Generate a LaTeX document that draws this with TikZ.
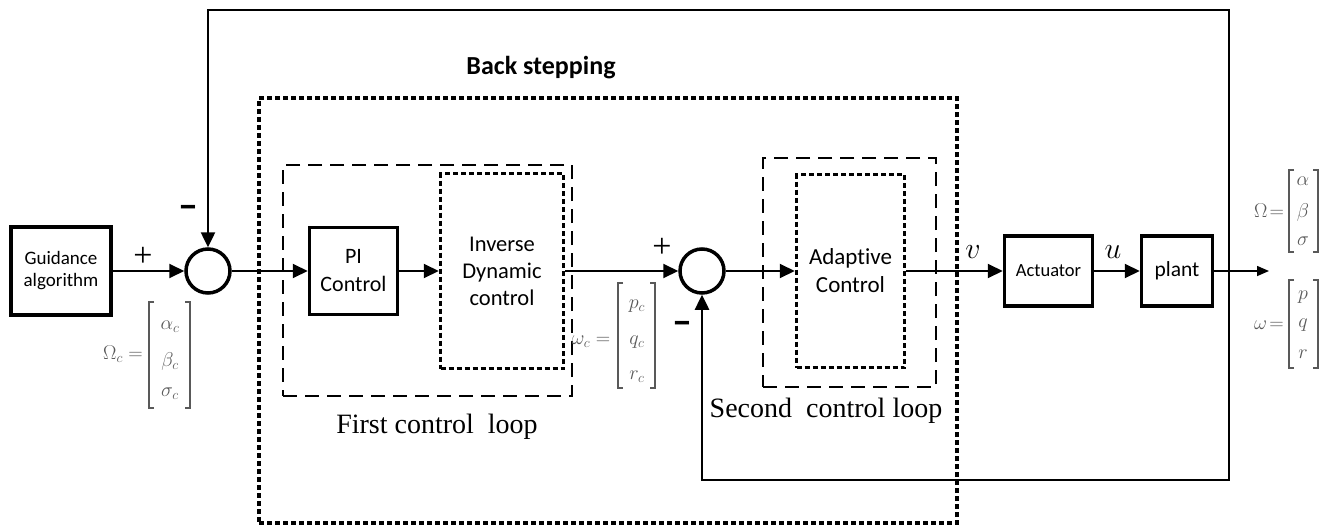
\RequirePackage{fix-cm}
\documentclass[tikz,border=0pt]{standalone}
\usepackage{amsmath}
\usepackage{fontspec}
\setmainfont{Liberation Serif}
\setsansfont[Ligatures={NoCommon}]{Carlito}
\usetikzlibrary{arrows.meta}
\definecolor{mgray}{gray}{0.35}

\begin{document}
\begin{tikzpicture}[x=1pt,y=-1pt,
  block/.style={draw, line width=3.5pt, font=\sffamily\fontsize{22}{28}\selectfont,
                align=center, inner sep=0pt},
  sumj/.style={circle, draw, line width=3.5pt, minimum size=44pt, inner sep=0pt},
  loopbox/.style={draw, line width=2.5pt, dash pattern=on 14pt off 8pt, inner sep=0pt},
  dotbox/.style={draw, line width=3.5pt, dash pattern=on 5pt off 3pt, inner sep=0pt},
  wire/.style={line width=2pt, -{Triangle[length=15pt,width=14pt]}},
  thinwire/.style={line width=1.5pt, -{Triangle[length=12pt,width=10pt]}},
  fbline/.style={line width=2.5pt},
  looplab/.style={font=\fontsize{28}{30}\selectfont, inner sep=0pt},
  plussign/.style={font=\fontsize{34}{34}\selectfont, inner sep=0pt},
  minussign/.style={font=\sffamily\bfseries\fontsize{40}{40}\selectfont, inner sep=0pt},
  siglab/.style={font=\fontsize{30}{30}\selectfont, inner sep=0pt},
  mlab/.style={text=mgray, font=\fontsize{20}{22}\selectfont, inner sep=0pt},
  brk/.style={draw=mgray, line width=1.2pt}
]
\useasboundingbox (0,0) rectangle (1328,527);

% back-stepping region and the two loops
\node[dotbox, minimum width=698pt, minimum height=425pt] (bs) at (608,310.5) {};
\node[font=\sffamily\bfseries\fontsize{26}{28}\selectfont, inner sep=0pt] (bslab) at (541,68) {Back stepping};

\node[loopbox, minimum width=289pt, minimum height=231pt] (loop1) at (427.5,280.5) {};
\node[looplab] (loop1lab) at (437,427) {First control\ \ loop};
\node[loopbox, minimum width=173pt, minimum height=229pt] (loop2) at (849.5,272.5) {};
\node[looplab] (loop2lab) at (826,411) {Second\ \ control loop};

% blocks
\node[block, minimum width=100pt, minimum height=88pt, font=\sffamily\fontsize{19}{22}\selectfont]
  (guid) at (61,271) {Guidance\\algorithm};
\node[sumj] (j1) at (208,271) {};
\node[block, minimum width=88pt, minimum height=87pt] (pi) at (353.5,271) {PI\\Control};
\node[dotbox, minimum width=123pt, minimum height=195pt, align=center,
      font=\sffamily\fontsize{22.5}{27}\selectfont] (idc) at (502,271) {Inverse\\Dynamic\\control};
\node[sumj] (j2) at (702,271) {};
\node[dotbox, minimum width=108pt, minimum height=193pt, align=center,
      font=\sffamily\fontsize{23}{28}\selectfont] (ac) at (850.5,271) {Adaptive\\Control};
\node[block, minimum width=88pt, minimum height=70pt, font=\sffamily\fontsize{18.5}{22}\selectfont]
  (act) at (1048.5,271) {Actuator};
\node[block, minimum width=71pt, minimum height=70pt, font=\sffamily\fontsize{21.5}{24}\selectfont]
  (plant) at (1177,271) {plant};

\coordinate (tap) at (1229,271);
\coordinate (out) at (1269,271);

% forward path
\draw[wire] (guid.east) -- (j1.west);
\draw[wire] (j1.east) -- (pi.west);
\draw[wire] (pi.east) -- (idc.west);
\draw[wire] (idc.east) -- (j2.west);
\draw[wire] (j2.east) -- (ac.west);
\draw[wire] (ac.east) -- (act.west);
\draw[wire] (act.east) -- (plant.west);
\draw[thinwire] (plant.east) -- (out);

% feedback paths
\draw[fbline, -{Triangle[length=15pt,width=14pt]}] (tap) -- (tap |- 0,10) -| (j1.north);
\draw[fbline, -{Triangle[length=15pt,width=14pt]}] (tap) -- (tap |- 0,480) -| (j2.south);

% signs and signal names
\node[plussign] (p1) at (143,257) {+};
\node[minussign] (m1) at (188,212) {–};
\node[plussign] (p2) at (662,248) {+};
\node[minussign] (m2) at (682,328) {–};
\node[siglab] (vlab) at (973,252) {$v$};
\node[siglab] (ulab) at (1113,252) {$u$};

% reference vector Omega_c
\node[mlab] (oclab) at (123,354) {$\Omega_c =$};
\draw[brk] (154,302) -- (149,302) -- (149,408) -- (154,408);
\draw[brk] (185,302) -- (190,302) -- (190,408) -- (185,408);
\node[mlab] (oc1) at (170,327) {$\alpha_c$};
\node[mlab] (oc2) at (170,361) {$\beta_c$};
\node[mlab] (oc3) at (170,394) {$\sigma_c$};

% rate command omega_c
\node[mlab] (wclab) at (591,342) {$\omega_c =$};
\draw[brk] (623,283) -- (618,283) -- (618,388) -- (623,388);
\draw[brk] (650,283) -- (655,283) -- (655,388) -- (650,388);
\node[mlab] (wc1) at (637,306) {$p_c$};
\node[mlab] (wc2) at (637,342) {$q_c$};
\node[mlab] (wc3) at (637,377) {$r_c$};

% plant outputs
\node[mlab] (olab) at (1269,211) {$\Omega\!=$};
\draw[brk] (1294,170) -- (1289,170) -- (1289,252) -- (1294,252);
\draw[brk] (1313,170) -- (1318,170) -- (1318,252) -- (1313,252);
\node[mlab] (o1) at (1303,181) {$\alpha$};
\node[mlab] (o2) at (1303,212) {$\beta$};
\node[mlab] (o3) at (1303,241) {$\sigma$};

\node[mlab] (wlab) at (1269,325) {$\omega\!=$};
\draw[brk] (1294,280) -- (1289,280) -- (1289,368) -- (1294,368);
\draw[brk] (1313,280) -- (1318,280) -- (1318,368) -- (1313,368);
\node[mlab] (w1) at (1303,297) {$p$};
\node[mlab] (w2) at (1303,325) {$q$};
\node[mlab] (w3) at (1303,354) {$r$};
\end{tikzpicture}
\end{document}
